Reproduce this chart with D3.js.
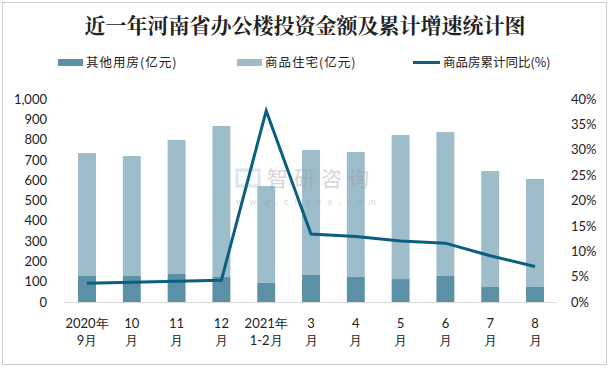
<!DOCTYPE html>
<html><head><meta charset="utf-8">
<script src="https://cdn.jsdelivr.net/npm/d3@7"></script>
<style>
html,body{margin:0;padding:0;background:#fff;}
svg{display:block;}
</style></head>
<body>
<svg id="chart" width="611" height="369"></svg>
<script>
const categories = ["2020年|9月","10|月","11|月","12|月","2021年|1-2月","3|月","4|月","5|月","6|月","7|月","8|月"];
const otherHousing = [128,128,138,123,94,133,123,113,128,74,74];
const commercialHousing = [606,591,660,744,477,616,616,710,709,571,532];
const cumulativeGrowth = [3.7,3.9,4.1,4.3,37.7,13.4,12.9,12.0,11.6,9.1,7.0];
const leftTicks = [0,100,200,300,400,500,600,700,800,900,1000];
const rightTicks = [0,5,10,15,20,25,30,35,40];
const title = "近一年河南省办公楼投资金额及累计增速统计图";
const seriesNames = ["其他用房(亿元)","商品住宅(亿元)","商品房累计同比(%)"];

const cDark = "#5b90a6", cLight = "#9dbdcb", cLine = "#0b5f7f";
const svg = d3.select("#chart");
const fontNum = "Lato, 'Liberation Sans', sans-serif";
const fontCJK = "'Noto Sans CJK SC', sans-serif";

// border
svg.append("rect").attr("x",2.5).attr("y",2.5).attr("width",604).attr("height",362)
  .attr("fill","none").attr("stroke","#9a9a9a").attr("stroke-dasharray","1,1");

// title
svg.append("text").attr("x",305).attr("y",33).attr("text-anchor","middle")
  .attr("font-family","'Noto Serif CJK SC','Noto Sans CJK SC',serif").attr("font-weight","bold")
  .attr("font-size",21).attr("fill","#222").text(title);

const x = d3.scaleBand().domain(categories).range([64.6,557.4]).paddingInner(0.6).paddingOuter(0.3);
const yL = d3.scaleLinear().domain([0,1000]).range([302,99]);
const yR = d3.scaleLinear().domain([0,40]).range([302,99]);

// bars
const g = svg.append("g");
g.selectAll(".bo").data(categories).join("rect")
  .attr("x",d=>x(d)).attr("width",x.bandwidth())
  .attr("y",(d,i)=>yL(otherHousing[i])).attr("height",(d,i)=>yL(0)-yL(otherHousing[i]))
  .attr("fill",cDark);
g.selectAll(".bc").data(categories).join("rect")
  .attr("x",d=>x(d)).attr("width",x.bandwidth())
  .attr("y",(d,i)=>yL(otherHousing[i]+commercialHousing[i]))
  .attr("height",(d,i)=>yL(otherHousing[i])-yL(otherHousing[i]+commercialHousing[i]))
  .attr("fill",cLight);

// watermark
const wm = svg.append("g").attr("opacity",0.4);
wm.append("rect").attr("x",237).attr("y",170).attr("width",22).attr("height",16).attr("fill","none")
  .attr("stroke","#a8c0e0").attr("stroke-width",3);
wm.append("text").attr("x",267).attr("y",186).attr("font-family",fontCJK).attr("font-size",21)
  .attr("fill","#999").attr("letter-spacing",6).text("智研咨询");
wm.append("text").attr("x",236).attr("y",205).attr("font-family",fontNum).attr("font-size",9)
  .attr("fill","#999").attr("textLength",140).attr("lengthAdjust","spacing").text("www.chyxx.com");

// baseline
svg.append("line").attr("x1",64).attr("x2",557).attr("y1",302.5).attr("y2",302.5)
  .attr("stroke","#d9d9d9").attr("stroke-width",1);

// line
const line = d3.line().x((d,i)=>x(categories[i])+x.bandwidth()/2).y(d=>yR(d));
svg.append("path").datum(cumulativeGrowth).attr("d",line).attr("fill","none")
  .attr("stroke",cLine).attr("stroke-width",3).attr("stroke-linejoin","miter");

// left axis
const axL = d3.axisLeft(yL).tickValues(leftTicks).tickFormat(d3.format(",")).tickSize(0).tickPadding(0);
const gL = svg.append("g").attr("transform","translate(47,0)").call(axL);
gL.select(".domain").remove();
gL.selectAll("text").attr("font-family",fontNum).attr("font-size",13).attr("fill","#222");

// right axis
const axR = d3.axisRight(yR).tickValues(rightTicks).tickFormat(d=>d+"%").tickSize(0).tickPadding(0);
const gR = svg.append("g").attr("transform","translate(571,0)").call(axR);
gR.select(".domain").remove();
gR.selectAll("text").attr("font-family",fontNum).attr("font-size",13).attr("fill","#222");

// x labels
const xl = svg.append("g");
categories.forEach((c)=>{
  const parts = c.split("|");
  const cx = x(c)+x.bandwidth()/2;
  const t = xl.append("text").attr("text-anchor","middle").attr("font-family",fontNum)
    .attr("font-size",13).attr("fill","#222");
  t.append("tspan").attr("x",cx).attr("y",328).text(parts[0]);
  t.append("tspan").attr("x",cx).attr("y",345).text(parts[1]);
});

// legend
const leg = svg.append("g").attr("font-family",fontCJK).attr("font-size",12.5).attr("fill","#222");
leg.append("rect").attr("x",58).attr("y",59).attr("width",25).attr("height",7).attr("fill",cDark);
leg.append("text").attr("x",86).attr("y",67).attr("letter-spacing",1).text(seriesNames[0]);
leg.append("rect").attr("x",237).attr("y",59).attr("width",25).attr("height",7).attr("fill",cLight);
leg.append("text").attr("x",265).attr("y",67).attr("letter-spacing",1).text(seriesNames[1]);
leg.append("line").attr("x1",413).attr("x2",440).attr("y1",62.5).attr("y2",62.5)
  .attr("stroke",cLine).attr("stroke-width",3);
leg.append("text").attr("x",443).attr("y",67).text(seriesNames[2]);
</script>
</body></html>
